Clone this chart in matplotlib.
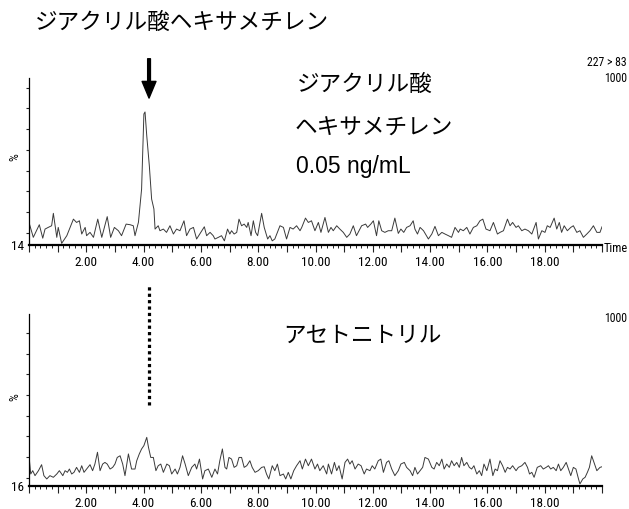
import matplotlib.pyplot as plt
from matplotlib.ticker import MultipleLocator, FuncFormatter

# upper trace: 227 > 83, 0.05 ng/mL standard (time in min, intensity in %)
t_std = [0.00, 0.15, 0.36, 0.48, 0.56, 0.67, 0.79, 0.85, 0.97, 1.02, 1.14, 1.32,
         1.55, 1.66, 1.76, 1.84, 1.96, 2.01, 2.13, 2.25, 2.40, 2.54, 2.73, 2.85,
         2.98, 3.12, 3.23, 3.39, 3.53, 3.64, 3.70, 3.82, 3.93, 4.01, 4.05, 4.11,
         4.20, 4.28, 4.36, 4.40, 4.51, 4.57, 4.69, 4.80, 4.92, 5.04, 5.15, 5.27,
         5.41, 5.50, 5.62, 5.74, 5.85, 6.12, 6.20, 6.32, 6.43, 6.49, 6.61, 6.72,
         6.82, 6.93, 7.01, 7.07, 7.16, 7.25, 7.33, 7.42, 7.51, 7.60, 7.65, 7.75,
         7.83, 7.91, 7.98, 8.12, 8.21, 8.33, 8.41, 8.49, 8.58, 8.76, 8.88, 8.99,
         9.11, 9.22, 9.34, 9.46, 9.52, 9.65, 9.75, 9.86, 9.98, 10.10, 10.19, 10.33,
         10.45, 10.54, 10.62, 10.74, 10.85, 10.97, 11.09, 11.20, 11.32, 11.43, 11.61, 11.75,
         11.82, 11.93, 12.02, 12.13, 12.21, 12.31, 12.42, 12.54, 12.66, 12.77, 12.89, 12.98,
         13.08, 13.18, 13.30, 13.41, 13.47, 13.56, 13.65, 13.77, 13.94, 14.06, 14.17, 14.29,
         14.41, 14.52, 14.64, 14.75, 14.87, 14.99, 15.05, 15.16, 15.28, 15.39, 15.51, 15.63,
         15.74, 15.84, 15.95, 16.09, 16.21, 16.35, 16.44, 16.56, 16.70, 16.79, 16.88, 17.00,
         17.08, 17.20, 17.31, 17.43, 17.55, 17.70, 17.78, 17.90, 18.01, 18.09, 18.19, 18.33,
         18.42, 18.51, 18.59, 18.68, 18.79, 18.91, 19.00, 19.12, 19.23, 19.35, 19.47, 19.58,
         19.70, 19.82, 19.93, 20.00]
i_std = [24.9, 17.7, 23.8, 17.3, 21.7, 22.5, 23.3, 29.3, 17.7, 22.5, 14.8, 18.5,
         26.5, 24.9, 25.7, 19.3, 22.5, 18.5, 20.1, 17.7, 26.5, 17.7, 27.7, 17.7,
         22.5, 20.9, 18.5, 24.1, 23.8, 23.3, 18.5, 25.0, 41.0, 77.3, 78.3, 66.8,
         52.3, 36.2, 31.4, 21.7, 23.3, 20.9, 21.7, 20.1, 23.3, 19.3, 21.7, 20.9,
         25.7, 18.5, 21.7, 22.5, 16.9, 22.8, 18.5, 20.1, 18.5, 16.9, 17.7, 18.5,
         16.0, 21.7, 19.3, 20.9, 19.3, 20.1, 26.5, 23.3, 24.1, 22.5, 24.9, 18.5,
         25.7, 20.1, 18.5, 29.3, 22.5, 16.9, 18.5, 16.0, 16.9, 23.3, 22.5, 16.9,
         22.5, 21.7, 23.3, 20.9, 22.5, 27.0, 24.9, 25.7, 20.9, 24.9, 20.1, 27.3,
         20.1, 22.5, 20.9, 23.3, 21.7, 20.1, 17.7, 19.3, 23.3, 18.5, 23.3, 24.1,
         22.5, 24.1, 25.7, 18.5, 25.7, 20.9, 20.1, 20.9, 20.9, 27.0, 19.6, 21.7,
         20.1, 22.5, 23.3, 25.7, 21.7, 19.3, 22.5, 20.9, 16.9, 19.3, 23.0, 18.5,
         20.1, 19.3, 18.5, 17.7, 22.5, 20.1, 21.7, 20.9, 22.5, 19.3, 22.5, 23.3,
         25.7, 26.5, 21.7, 20.9, 24.9, 19.3, 20.1, 20.9, 26.5, 23.3, 24.9, 22.5,
         23.3, 20.9, 21.7, 20.9, 19.3, 24.9, 16.9, 20.9, 20.1, 23.3, 22.5, 27.0,
         21.7, 24.9, 20.1, 23.3, 20.9, 22.5, 23.3, 20.1, 20.9, 17.7, 19.3, 20.9,
         23.3, 20.1, 20.1, 22.8]

# lower trace: acetonitrile blank
t_blank = [0.00, 0.06, 0.13, 0.21, 0.33, 0.44, 0.52, 0.62, 0.73, 0.85, 0.97, 1.06,
           1.18, 1.26, 1.34, 1.41, 1.49, 1.57, 1.66, 1.76, 1.84, 1.92, 2.01, 2.13,
           2.22, 2.30, 2.39, 2.48, 2.57, 2.65, 2.73, 2.83, 2.92, 3.00, 3.08, 3.18,
           3.27, 3.35, 3.47, 3.58, 3.70, 3.76, 3.85, 3.93, 4.01, 4.11, 4.17, 4.25,
           4.34, 4.43, 4.51, 4.60, 4.69, 4.81, 4.90, 4.98, 5.10, 5.18, 5.27, 5.36,
           5.45, 5.56, 5.68, 5.79, 5.85, 5.95, 6.06, 6.14, 6.26, 6.38, 6.49, 6.58,
           6.66, 6.75, 6.84, 6.90, 6.98, 7.07, 7.16, 7.25, 7.33, 7.42, 7.51, 7.60,
           7.71, 7.79, 7.89, 8.00, 8.12, 8.21, 8.29, 8.37, 8.49, 8.58, 8.67, 8.76,
           8.88, 8.96, 9.05, 9.14, 9.24, 9.34, 9.46, 9.54, 9.65, 9.75, 9.86, 9.98,
           10.07, 10.15, 10.27, 10.39, 10.45, 10.56, 10.66, 10.74, 10.82, 10.93, 11.03, 11.12,
           11.20, 11.28, 11.38, 11.49, 11.59, 11.70, 11.78, 11.90, 11.98, 12.07, 12.19, 12.28,
           12.37, 12.48, 12.56, 12.66, 12.77, 12.89, 12.98, 13.10, 13.18, 13.30, 13.39, 13.47,
           13.56, 13.65, 13.74, 13.82, 13.94, 14.06, 14.14, 14.23, 14.32, 14.41, 14.49, 14.58,
           14.67, 14.75, 14.84, 14.93, 15.02, 15.10, 15.18, 15.28, 15.37, 15.45, 15.53, 15.63,
           15.72, 15.80, 15.88, 15.98, 16.09, 16.19, 16.27, 16.35, 16.44, 16.53, 16.62, 16.70,
           16.79, 16.88, 17.00, 17.08, 17.20, 17.31, 17.40, 17.47, 17.55, 17.63, 17.74, 17.86,
           17.95, 18.05, 18.13, 18.21, 18.30, 18.40, 18.48, 18.56, 18.65, 18.75, 18.83, 18.91,
           19.00, 19.09, 19.18, 19.23, 19.33, 19.41, 19.49, 19.56, 19.64, 19.72, 19.82, 19.93,
           20.00]
i_blank = [30.6, 21.8, 23.4, 21.0, 23.4, 26.3, 21.0, 19.4, 21.0, 20.2, 21.8, 23.4,
           21.0, 23.4, 22.6, 24.2, 21.8, 22.6, 25.0, 22.6, 25.8, 22.6, 24.2, 26.3,
           23.4, 26.6, 32.3, 23.4, 26.6, 27.4, 26.6, 24.2, 25.0, 26.6, 29.8, 30.6,
           26.6, 21.0, 31.5, 24.2, 24.2, 28.2, 31.5, 33.9, 35.5, 39.5, 34.7, 29.8,
           29.8, 23.4, 25.8, 26.6, 22.6, 26.6, 25.8, 21.8, 24.2, 21.8, 25.0, 30.6,
           26.6, 21.0, 25.0, 26.6, 24.2, 29.0, 19.4, 23.4, 24.2, 20.2, 24.2, 21.8,
           28.2, 33.9, 25.0, 24.2, 29.8, 29.0, 25.0, 25.8, 29.8, 29.8, 25.0, 25.8,
           28.2, 25.0, 22.6, 23.4, 25.0, 25.3, 21.8, 19.4, 25.8, 23.4, 26.6, 21.0,
           21.8, 19.4, 22.6, 19.4, 23.4, 25.8, 28.2, 24.2, 29.0, 25.8, 29.0, 24.2,
           26.6, 23.4, 25.8, 21.8, 26.6, 21.8, 27.4, 23.4, 25.8, 19.4, 27.4, 29.0,
           26.6, 28.2, 24.2, 26.6, 25.8, 21.8, 24.2, 23.4, 25.8, 24.2, 28.2, 29.0,
           22.6, 27.4, 28.2, 24.2, 21.0, 23.4, 26.6, 27.4, 25.0, 23.4, 21.0, 25.0,
           21.8, 23.4, 25.0, 29.8, 29.0, 25.0, 24.2, 27.4, 25.8, 29.0, 24.2, 26.6,
           25.0, 28.2, 25.8, 27.4, 25.0, 29.8, 25.8, 27.4, 25.0, 24.2, 25.8, 21.8,
           23.4, 21.0, 26.6, 23.4, 29.0, 21.0, 24.2, 23.4, 28.2, 25.8, 22.6, 25.0,
           24.2, 25.8, 23.4, 25.0, 25.8, 27.4, 25.0, 21.8, 22.6, 20.2, 25.0, 25.8,
           24.2, 25.0, 25.8, 24.2, 25.0, 23.4, 26.6, 23.4, 25.0, 27.4, 24.2, 21.0,
           25.0, 24.2, 19.4, 17.0, 19.4, 20.2, 22.6, 25.0, 30.6, 27.4, 23.4, 25.0,
           25.3]

NARROW = ['Liberation Sans Narrow', 'Roboto Condensed', 'DejaVu Sans']
JP = ['Noto Sans CJK JP', 'DejaVu Sans']
LATIN = ['Liberation Sans', 'DejaVu Sans']

plt.rcParams['font.family'] = NARROW
plt.rcParams['font.stretch'] = 'condensed'

W, H = 629, 510


def px(x, y):
    # pixel position (from top-left) -> figure fraction
    return x / W, 1 - y / H


def style_axis(ax, ymin, ymax):
    ax.set_xlim(0, 20)
    ax.set_ylim(ymin, ymax)
    ax.set_facecolor('none')
    ax.spines['top'].set_visible(False)
    ax.spines['right'].set_visible(False)
    ax.spines['bottom'].set_linewidth(1.6)
    ax.spines['left'].set_linewidth(0.9)
    ax.xaxis.set_major_locator(MultipleLocator(1))
    ax.xaxis.set_minor_locator(MultipleLocator(0.2))
    ax.xaxis.set_major_formatter(FuncFormatter(
        lambda v, p: f"{v:.2f}" if 0 < v < 20 and round(v) % 2 == 0 else ""))
    ax.tick_params(axis='x', which='major', length=5, width=0.8, pad=2.5,
                   labelsize=9.5, color='#222222')
    ax.tick_params(axis='x', which='minor', length=2.5, width=0.7, color='#222222')
    ax.set_yticks(range(20, 100, 10))
    ax.set_yticklabels([])
    ax.tick_params(axis='y', length=2.5, width=0.8, color='#222222')


fig = plt.figure(figsize=(W / 100, H / 100), dpi=100)
ax1 = fig.add_axes([29 / W, 1 - 246 / H, 573 / W, 167 / H])
ax2 = fig.add_axes([29 / W, 1 - 487 / H, 573 / W, 172 / H])

style_axis(ax1, 14, 94.7)
style_axis(ax2, 16, 99.1)

ax1.plot(t_std, i_std, color='#3a3a3a', lw=0.7)
ax2.plot(t_blank, i_blank, color='#3a3a3a', lw=0.7)

# arrow over the analyte peak and dotted guide in the blank
ax1.annotate('', xy=(4.19, 85), xytext=(4.19, 104), annotation_clip=False,
             arrowprops=dict(width=2.0, headwidth=10, headlength=12,
                             color='black', shrink=0))
ax2.plot([4.19, 4.19], [55.1, 113.6], color='black', lw=2.3,
         ls=(0, (1, 1)), dash_capstyle='butt', clip_on=False)

# axis annotations (MassLynx style)
fig.text(*px(24, 247), '14', ha='right', va='center', fontsize=9.5)
fig.text(*px(24, 488), '16', ha='right', va='center', fontsize=9.5)
fig.text(*px(15, 157), '%', ha='center', va='center', rotation=90, fontsize=9)
fig.text(*px(15, 397), '%', ha='center', va='center', rotation=90, fontsize=9)
fig.text(*px(604, 248), 'Time', ha='left', va='center', fontsize=8.8)
fig.text(*px(627, 63), '227 > 83', ha='right', va='center', fontsize=8.5)
fig.text(*px(627, 78), '1000', ha='right', va='center', fontsize=8.5)
fig.text(*px(627, 319), '1000', ha='right', va='center', fontsize=8.5)

# labels
fig.text(*px(35, 22), 'ジアクリル酸ヘキサメチレン', ha='left', va='center',
         fontsize=16.3, family=JP, stretch='normal')
fig.text(*px(297, 84), 'ジアクリル酸', ha='left', va='center', fontsize=16.3,
         family=JP, stretch='normal')
fig.text(*px(295, 128), 'ヘキサメチレン', ha='left', va='center', fontsize=16.3,
         family=JP, stretch='normal')
fig.text(*px(296, 167), '0.05 ng/mL', ha='left', va='center', fontsize=16.5,
         family=LATIN, stretch='normal')
fig.text(*px(283, 335), 'アセトニトリル', ha='left', va='center', fontsize=16.3,
         family=JP, stretch='normal')

fig.savefig('out.png', dpi=100)
